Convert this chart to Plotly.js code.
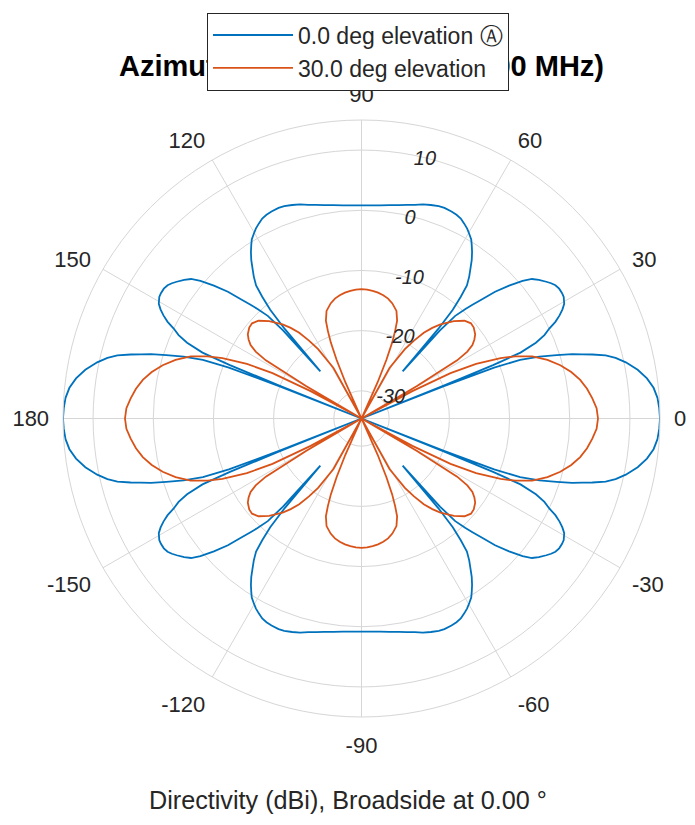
<!DOCTYPE html>
<html><head><meta charset="utf-8">
<script src="https://cdn.plot.ly/plotly-3.0.1.min.js"></script>
<style>html,body{margin:0;padding:0;background:#fff}</style>
</head><body>
<div id="chart" style="width:695px;height:825px"></div>
<script>
// Quadrant I readings (azimuth deg, directivity dBi); the pattern is symmetric about both axes
const blueAngles = [0,2,4,6,8,10,12,13.4,14.5,15.5,16.2,17,18,19.2,20.3,21.0,21.4,21.6,21.8,22.1,22.5,23.5,24.5,25.6,26.5,27.5,28.5,29.5,31,32,33.3,34.5,35.5,36.5,38,39.3,40.5,42,43.5,44.7,45.7,46.5,47.6,48.3,48.9,49.4,50.0,50.8,51.6,52.8,54,55.2,56.4,57.5,58.5,59.7,60.9,62.2,63.6,65,66.5,68.5,70,72,74,76,78,80,82.5,85,87.5,90];
const blueValues = [15.0,14.9,14.7,14.2,13.3,12.0,10.3,8.8,7.3,5.2,3.6,2.0,-0.5,-3.3,-6.5,-11,-20,-45,-20,-11,-6,-3,-1.2,0.0,1.4,2.5,3.4,4.1,4.6,4.7,4.7,4.5,4.1,3.6,2.8,2.0,0.6,-1.6,-4.0,-6.5,-8.2,-9.5,-11.5,-15,-24.2,-15,-11,-8.5,-6.4,-5.0,-3.8,-2.5,-1.4,-0.5,0.3,0.9,1.5,2.0,2.5,2.75,2.9,3.0,2.95,2.7,2.4,2.0,1.7,1.4,1.15,0.95,0.85,0.8];
const orangeAngles = [0,2.5,5,7.5,10,12.5,15,17.5,20,22,23.5,25.5,27,28.3,29.3,30.3,31.3,32.3,33.5,35,36.5,39,41,43.5,46.5,50,52,54,56,58,61,63.5,66,67,68,69,70,72,75,77.5,80,82.5,85,87.5,90];
const orangeValues = [4.7,4.5,3.9,3.2,2.3,1.1,-0.4,-2.2,-4.4,-7.0,-9.4,-13.5,-18,-25,-45,-24,-16,-13.8,-12.5,-11.7,-11.1,-10.6,-10.5,-11.0,-12.3,-14.2,-15.5,-17,-19,-21,-25,-45,-28,-24,-21,-19,-17.3,-15.8,-14.8,-14.2,-13.8,-13.5,-13.3,-13.15,-13.1];

const seriesNames = ['0.0 deg elevation \u24B6', '30.0 deg elevation'];
const seriesColors = ['#0072BD', '#D95319'];
const angularTickVals = [0,30,60,90,120,150,180,210,240,270,300,330];
const angularTickText = ['0','30','60','90','120','150','180','-150','-120','-90','-60','-30'];
const radialTickVals = [-30,-20,-10,0,10];
const radialTickText = ['-30','-20','-10','0','10'];
const radialRange = [-34.6, 15.0];
const titleText = 'Azimuth Directivity Plot (3000 MHz)';
const bottomLabel = 'Directivity (dBi), Broadside at 0.00 \u00B0';

function fullCircle(angles, values) {
  const th = [], r = [];
  const push = (a, v) => { th.push(a); r.push(Math.max(v, radialRange[0])); };
  const n = angles.length;
  for (let i = 0; i < n; i++) push(angles[i], values[i]);
  for (let i = n - 1; i >= 0; i--) push(180 - angles[i], values[i]);
  for (let i = 0; i < n; i++) push(180 + angles[i], values[i]);
  for (let i = n - 1; i >= 0; i--) push(360 - angles[i], values[i]);
  return { th, r };
}

const b = fullCircle(blueAngles, blueValues);
const o = fullCircle(orangeAngles, orangeValues);
const font = 'Liberation Sans, Arial, Helvetica, sans-serif';

const traces = [
  { type: 'scatterpolar', mode: 'lines', theta: b.th, r: b.r, name: seriesNames[0],
    line: { color: seriesColors[0], width: 1.8 } },
  { type: 'scatterpolar', mode: 'lines', theta: o.th, r: o.r, name: seriesNames[1],
    line: { color: seriesColors[1], width: 1.8 } }
];

const layout = {
  width: 695, height: 825,
  margin: { l: 61, r: 33, t: 117, b: 108 },
  paper_bgcolor: '#fff',
  font: { family: font, color: '#262626' },
  title: { text: titleText, font: { family: font, size: 29, weight: 'bold', color: '#000' },
           xref: 'paper', x: 0.5, xanchor: 'center', yref: 'container', y: 1 - 66/825, yanchor: 'middle' },
  showlegend: true,
  legend: { x: (207-61)/601, xanchor: 'left', y: 1 + (117-9)/600, yanchor: 'top',
            bgcolor: '#fff', bordercolor: '#262626', borderwidth: 1, tracegroupgap: 0,
            font: { family: font, size: 23, color: '#262626' }, itemwidth: 80 },
  polar: {
    domain: { x: [0, 1], y: [0, 1] },
    bgcolor: '#fff',
    angularaxis: { rotation: 0, direction: 'counterclockwise', tickmode: 'array',
      tickvals: angularTickVals, ticktext: angularTickText, showline: true,
      linecolor: '#d6d6d6', linewidth: 1, gridcolor: '#d6d6d6', gridwidth: 1,
      ticks: 'outside', ticklen: 9, tickcolor: 'rgba(0,0,0,0)',
      tickfont: { family: font, size: 22, color: '#262626' } },
    radialaxis: { range: radialRange, tickmode: 'array', tickvals: radialTickVals, ticktext: radialTickText,
      angle: 81, showline: false, ticks: '', gridcolor: '#d6d6d6', gridwidth: 1, tickangle: 81,
      tickfont: { family: font, size: 20, color: '#262626', style: 'italic' } }
  },
  annotations: [
    { text: bottomLabel, xref: 'paper', yref: 'paper', x: (347.5-61)/601, y: -(800-717)/600,
      xanchor: 'center', yanchor: 'middle', showarrow: false,
      font: { family: font, size: 25.2, color: '#262626' } }
  ]
};

Plotly.newPlot('chart', traces, layout, { displayModeBar: false, staticPlot: true }).then(gd => {
  const lg = gd.querySelector('g.legend');
  if (lg && lg.parentNode) lg.parentNode.appendChild(lg);
});
</script>
</body></html>
